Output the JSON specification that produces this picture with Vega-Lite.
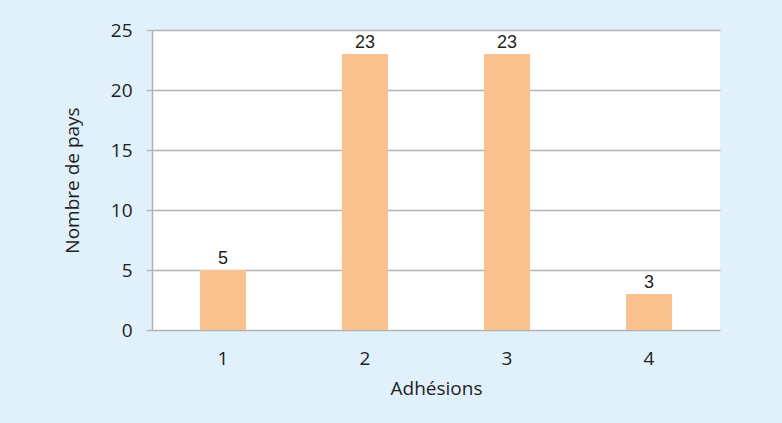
{
  "$schema": "https://vega.github.io/schema/vega-lite/v6.json",
  "width": 568,
  "height": 300,
  "autosize": {"type": "none"},
  "padding": {"left": 152, "top": 30, "right": 62, "bottom": 93},
  "background": "#e0f1fb",
  "config": {
    "view": {"stroke": null, "fill": "#ffffff"},
    "font": "Open Sans"
  },
  "data": {
    "values": [
      {"adhesions": "1", "pays": 5},
      {"adhesions": "2", "pays": 23},
      {"adhesions": "3", "pays": 23},
      {"adhesions": "4", "pays": 3}
    ]
  },
  "encoding": {
    "x": {
      "field": "adhesions",
      "type": "ordinal",
      "title": "Adhésions",
      "scale": {"paddingInner": 0, "paddingOuter": 0},
      "axis": {
        "labelAngle": 0,
        "ticks": false,
        "tickSize": 0,
        "domain": false,
        "labelPadding": 19,
        "labelFontSize": 19,
        "labelColor": "#231f20",
        "titleFontSize": 19,
        "titleFontWeight": "normal",
        "titleColor": "#231f20",
        "titlePadding": 11
      }
    },
    "y": {
      "field": "pays",
      "type": "quantitative",
      "title": "Nombre de pays",
      "scale": {"domain": [0, 25]},
      "axis": {
        "values": [0, 5, 10, 15, 20, 25],
        "grid": true,
        "gridColor": "#b3b3b3",
        "gridWidth": 1.3,
        "tickColor": "#b3b3b3",
        "tickWidth": 1.3,
        "tickSize": 6,
        "domainColor": "#b3b3b3",
        "domainWidth": 1.5,
        "labelPadding": 14,
        "labelFontSize": 19,
        "labelColor": "#231f20",
        "titleFontSize": 19,
        "titleFontWeight": "normal",
        "titleColor": "#231f20",
        "titlePadding": 28
      }
    }
  },
  "layer": [
    {
      "mark": {"type": "bar", "color": "#f9c18e", "width": {"band": 0.324}}
    },
    {
      "mark": {
        "type": "text",
        "baseline": "bottom",
        "dy": -2,
        "font": "Liberation Sans",
        "fontSize": 18,
        "color": "#231f20"
      },
      "encoding": {"text": {"field": "pays", "type": "quantitative"}}
    }
  ]
}
